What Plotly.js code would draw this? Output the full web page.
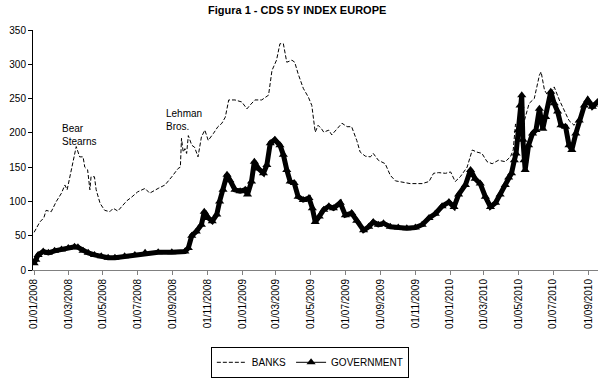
<!DOCTYPE html>
<html><head><meta charset="utf-8">
<script src="https://cdn.plot.ly/plotly-3.0.1.min.js"></script>
<style>html,body{margin:0;padding:0;background:#fff}#chart{width:609px;height:380px}</style>
</head><body><div id="chart"></div>
<script>
const banksDates = ["2008-01-01","2008-01-06","2008-01-11","2008-01-18","2008-01-22","2008-01-31","2008-02-09","2008-02-18","2008-02-24","2008-02-28","2008-03-04","2008-03-09","2008-03-15","2008-03-21","2008-03-27","2008-03-30","2008-04-04","2008-04-08","2008-04-10","2008-04-16","2008-04-19","2008-04-26","2008-05-04","2008-05-13","2008-05-19","2008-05-27","2008-06-05","2008-06-12","2008-06-20","2008-07-01","2008-07-14","2008-07-22","2008-08-06","2008-08-18","2008-08-30","2008-09-10","2008-09-14","2008-09-16","2008-09-19","2008-09-22","2008-09-25","2008-09-28","2008-10-04","2008-10-09","2008-10-15","2008-10-21","2008-10-27","2008-11-02","2008-11-11","2008-11-19","2008-11-26","2008-12-02","2008-12-08","2008-12-19","2008-12-31","2009-01-09","2009-01-14","2009-01-23","2009-02-04","2009-02-16","2009-02-22","2009-03-02","2009-03-08","2009-03-14","2009-03-20","2009-03-29","2009-04-03","2009-04-09","2009-04-18","2009-04-27","2009-05-03","2009-05-09","2009-05-14","2009-05-20","2009-05-24","2009-06-02","2009-06-07","2009-06-16","2009-06-25","2009-07-04","2009-07-12","2009-07-21","2009-07-27","2009-08-05","2009-08-14","2009-08-19","2009-08-28","2009-09-09","2009-09-18","2009-09-27","2009-10-08","2009-10-23","2009-11-06","2009-11-13","2009-11-25","2009-12-03","2009-12-12","2009-12-24","2010-01-02","2010-01-10","2010-01-19","2010-01-31","2010-02-09","2010-02-17","2010-02-26","2010-03-07","2010-03-16","2010-03-27","2010-04-08","2010-04-17","2010-04-22","2010-04-26","2010-04-29","2010-05-06","2010-05-11","2010-05-20","2010-05-29","2010-06-07","2010-06-10","2010-06-16","2010-06-24","2010-07-03","2010-07-12","2010-07-21","2010-07-29","2010-08-07","2010-08-16","2010-08-25","2010-09-02","2010-09-11","2010-09-17"];
const banksValues = [55,62,70,76,87,85,100,112,124,117,136,160,180,165,165,150,146,117,136,136,117,97,87,85,90,86,95,101,106,114,119,112,119,124,136,148,150,192,172,177,170,196,182,179,165,194,204,189,199,209,214,223,248,248,245,235,240,248,248,255,291,306,330,330,303,306,303,286,265,252,240,201,211,206,201,204,197,206,214,209,209,189,172,166,165,170,160,155,138,130,128,126,126,126,129,141,142,141,143,129,136,150,175,172,170,158,155,160,158,165,175,213,209,223,216,243,250,284,289,262,252,267,248,233,218,211,223,238,248,243,238];

const govDates = ["2008-01-01","2008-01-04","2008-01-08","2008-01-17","2008-01-26","2008-02-06","2008-02-18","2008-03-01","2008-03-12","2008-03-18","2008-03-27","2008-04-05","2008-04-16","2008-04-28","2008-05-10","2008-05-22","2008-06-08","2008-06-26","2008-07-14","2008-08-06","2008-08-30","2008-09-22","2008-09-28","2008-10-04","2008-10-12","2008-10-21","2008-10-26","2008-11-02","2008-11-09","2008-11-17","2008-11-22","2008-11-28","2008-12-05","2008-12-10","2008-12-19","2008-12-28","2009-01-06","2009-01-10","2009-01-17","2009-01-22","2009-01-29","2009-02-07","2009-02-13","2009-02-19","2009-02-27","2009-03-08","2009-03-14","2009-03-20","2009-03-26","2009-04-02","2009-04-09","2009-04-18","2009-04-28","2009-05-04","2009-05-09","2009-05-16","2009-05-24","2009-06-02","2009-06-10","2009-06-22","2009-07-01","2009-07-12","2009-07-21","2009-08-02","2009-08-11","2009-08-19","2009-08-28","2009-09-06","2009-09-18","2009-10-02","2009-10-17","2009-11-01","2009-11-13","2009-11-25","2009-12-06","2009-12-18","2009-12-30","2010-01-08","2010-01-16","2010-01-28","2010-02-06","2010-02-14","2010-02-23","2010-03-04","2010-03-13","2010-03-22","2010-03-30","2010-04-08","2010-04-14","2010-04-19","2010-04-24","2010-04-27","2010-05-01","2010-05-04","2010-05-07","2010-05-09","2010-05-11","2010-05-13","2010-05-19","2010-05-26","2010-06-01","2010-06-07","2010-06-13","2010-06-18","2010-06-27","2010-07-03","2010-07-09","2010-07-15","2010-07-23","2010-07-29","2010-08-03","2010-08-10","2010-08-16","2010-08-25","2010-08-31","2010-09-08","2010-09-17"];
const govValues = [10,15,22,27,25,28,30,32,34,33,28,25,22,20,18,18,20,22,25,26,26,27,32,50,56,66,85,76,71,81,100,117,139,131,117,115,117,110,129,158,148,141,153,185,190,182,168,146,129,127,107,102,105,90,70,78,88,93,90,98,80,83,72,58,63,70,66,68,63,62,61,62,66,76,82,93,99,92,110,124,146,133,126,107,92,98,110,124,135,141,160,170,204,240,255,190,160,146,182,199,204,235,206,223,260,243,231,211,209,182,175,199,218,240,248,238,245];

const seriesNames = ["BANKS", "GOVERNMENT"];
const chartTitle = "Figura 1 - CDS 5Y INDEX EUROPE";
const notes = [
  {text: "Bear<br>Stearns", date: "2008-02-15", value: 218},
  {text: "Lehman<br>Bros.", date: "2008-08-16", value: 239}
];

const font = "Arial, 'Liberation Sans', sans-serif";

const traces = [
  {
    x: banksDates, y: banksValues, name: seriesNames[0], type: "scatter", mode: "lines",
    line: {color: "#000", width: 1, dash: "4px,2px"}
  },
  {
    // dense band of overlapping daily markers in the original
    x: govDates, y: govValues, name: seriesNames[1], type: "scatter", mode: "lines",
    line: {color: "#000", width: 5}, showlegend: false, hoverinfo: "skip"
  },
  {
    x: govDates, y: govValues, name: seriesNames[1], type: "scatter", mode: "lines+markers",
    line: {color: "#000", width: 1},
    marker: {symbol: "triangle-up", size: 8, color: "#000"}
  }
];

const layout = {
  width: 609, height: 380,
  margin: {l: 33, r: 11, t: 30, b: 110, autoexpand: false},
  paper_bgcolor: "#fff", plot_bgcolor: "#fff",
  font: {family: font, size: 10, color: "#000"},
  title: {text: "<b>" + chartTitle + "</b>", x: 0.488, xref: "container", y: 0.972, yref: "container", yanchor: "middle",
          font: {family: font, size: 11, color: "#000"}},
  showlegend: true,
  legend: {orientation: "h", x: 0.49, xanchor: "center", y: -0.32, yanchor: "top",
           bordercolor: "#000", borderwidth: 1, font: {family: font, size: 10, color: "#000"},
           itemwidth: 30, tracegroupgap: 0},
  xaxis: {
    type: "date", range: ["2007-12-30", "2010-09-18"], automargin: false,
    tick0: "2008-01-01", dtick: "M2", tickformat: "%d/%m/%Y", tickangle: -90,
    showgrid: false, zeroline: false, showline: true, linecolor: "#808080", linewidth: 1,
    ticks: "outside", ticklen: 4, tickcolor: "#808080", tickfont: {family: font, size: 10, color: "#000"}
  },
  yaxis: {
    range: [0, 350], tick0: 0, dtick: 50, automargin: false,
    showgrid: false, zeroline: false, showline: true, linecolor: "#000", linewidth: 1,
    ticks: "outside", ticklen: 4, tickcolor: "#000", tickfont: {family: font, size: 10, color: "#000"}
  },
  annotations: notes.map(n => ({
    x: n.date, y: n.value, xref: "x", yref: "y", text: n.text, showarrow: false,
    xanchor: "left", yanchor: "top", align: "left", font: {family: font, size: 10, color: "#000"}
  }))
};

Plotly.newPlot("chart", traces, layout, {staticPlot: true, displayModeBar: false});
</script></body></html>
